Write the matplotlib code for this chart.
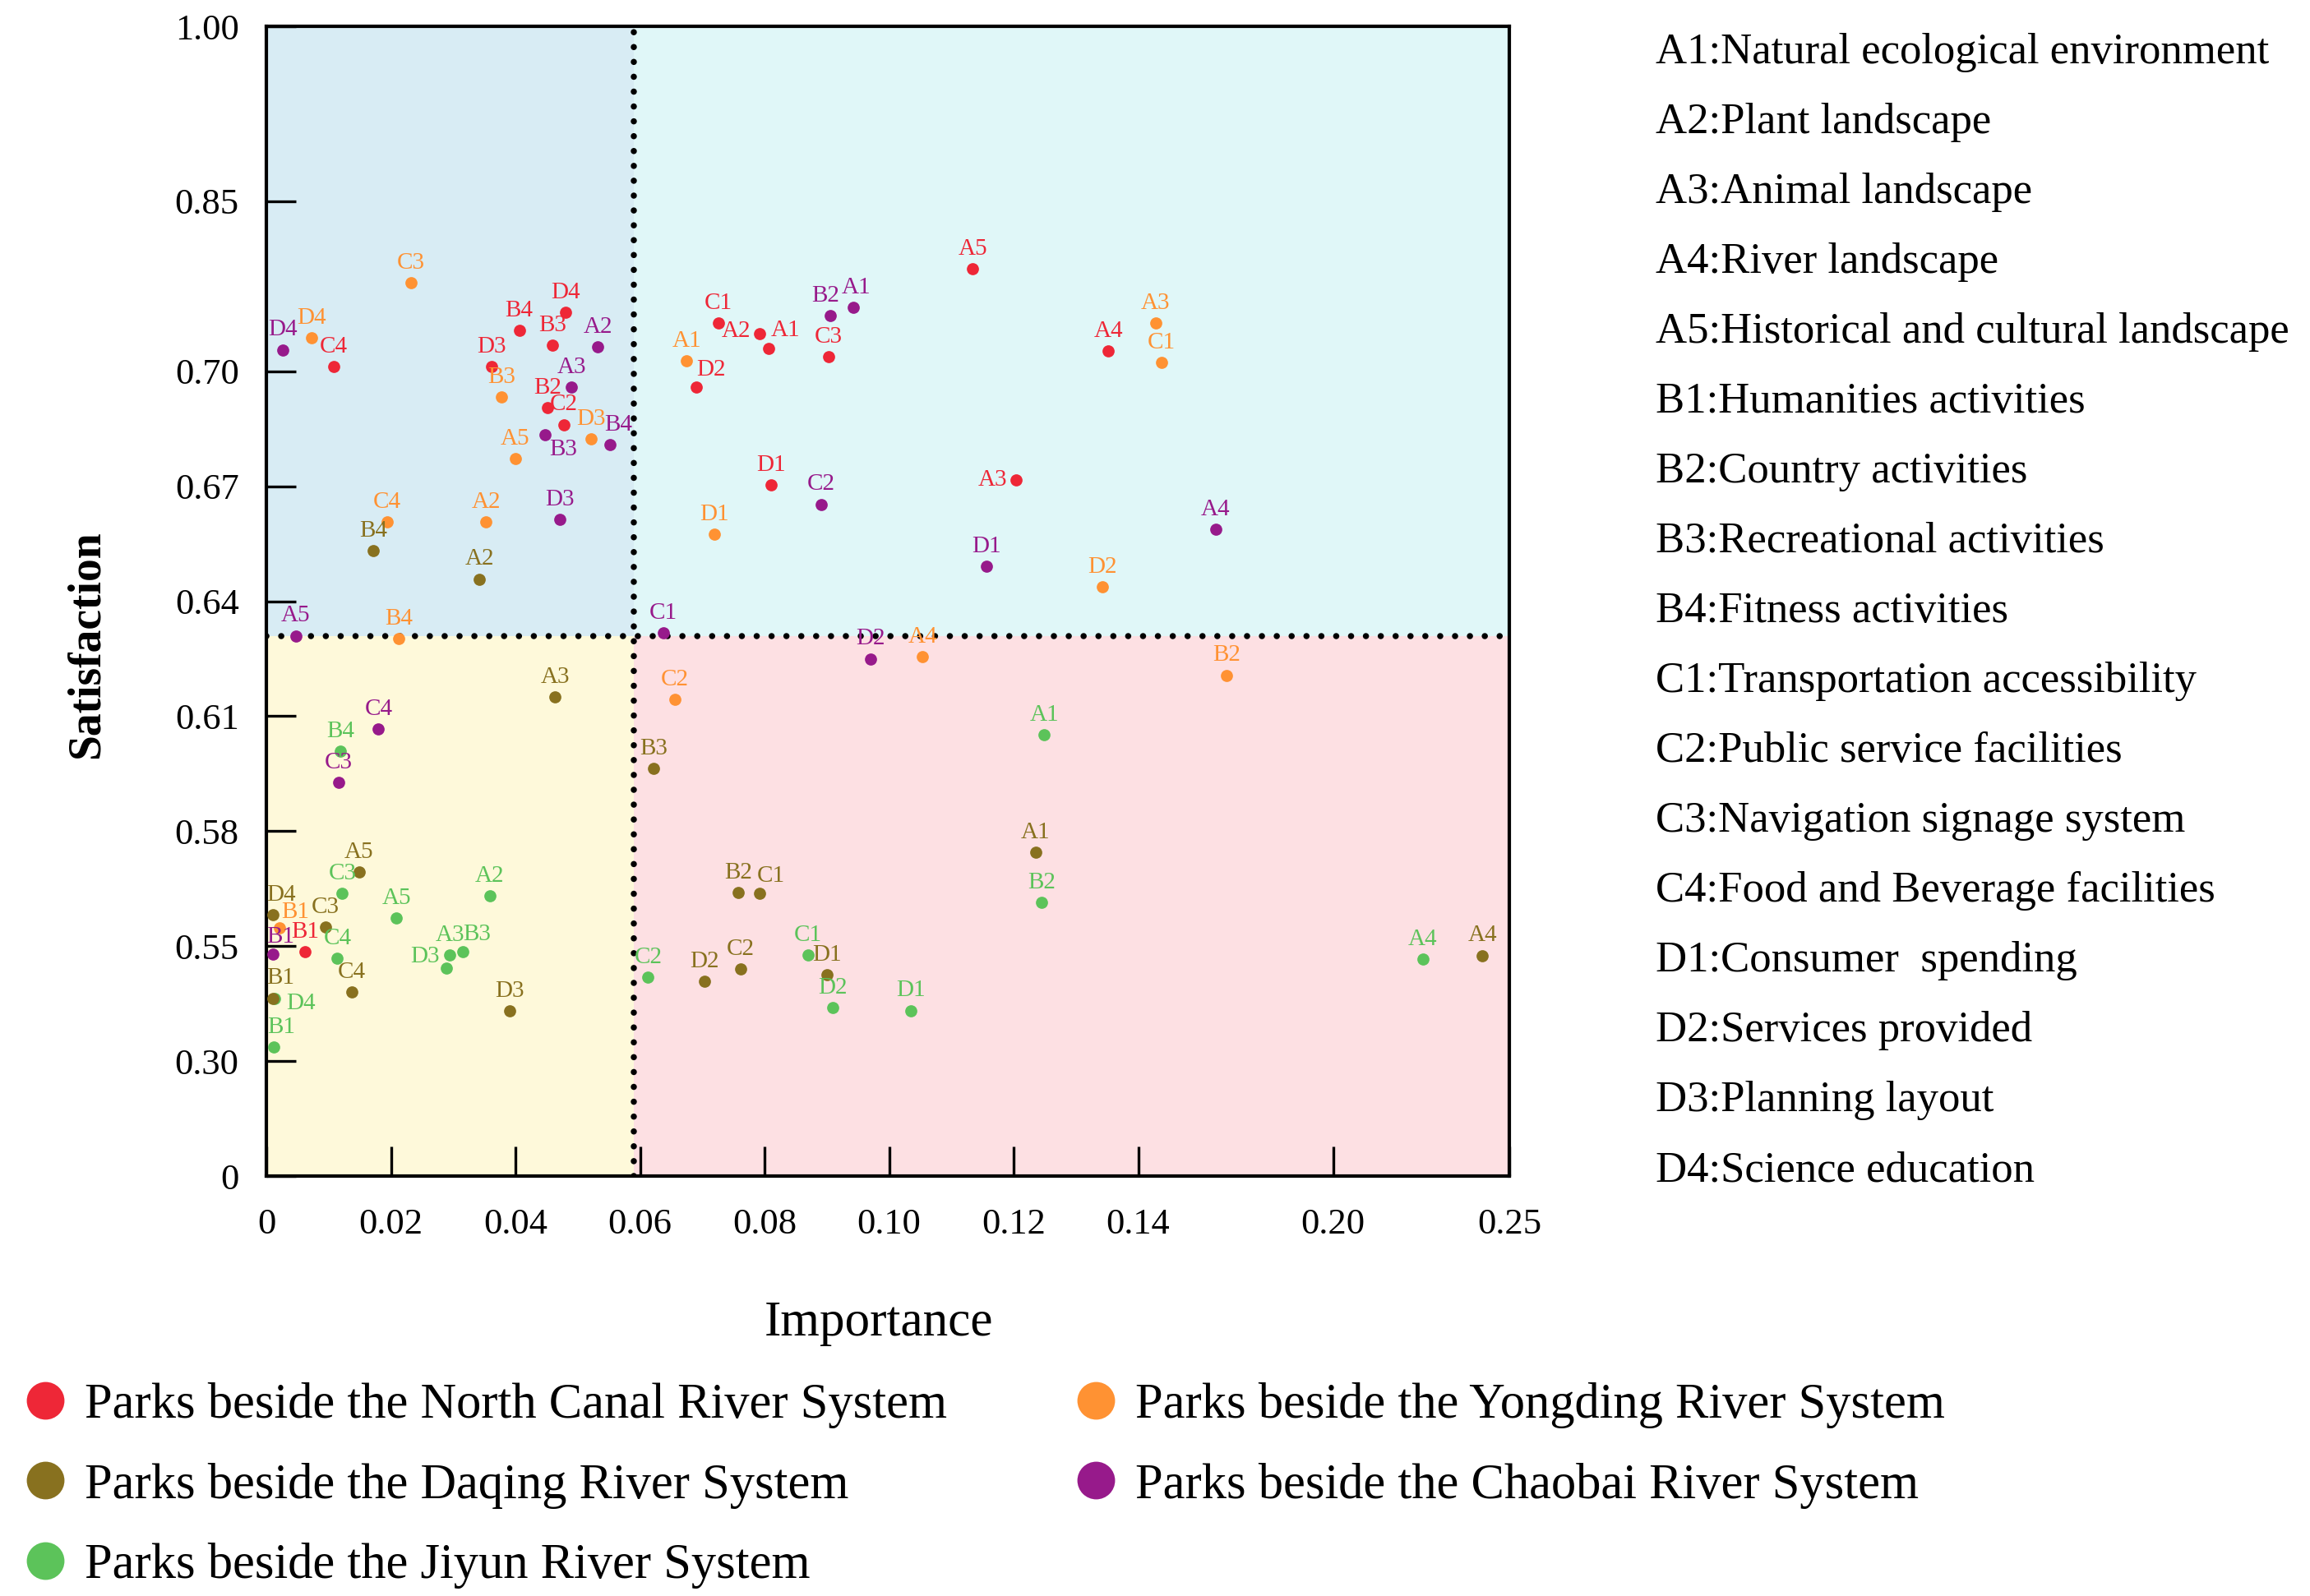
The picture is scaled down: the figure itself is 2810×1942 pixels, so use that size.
import numpy as np
import matplotlib
matplotlib.use('Agg')
import matplotlib.pyplot as plt
from matplotlib.lines import Line2D

plt.rcParams['font.family'] = ['Liberation Serif', 'DejaVu Serif']

INDICATORS = ['A1', 'A2', 'A3', 'A4', 'A5', 'B1', 'B2', 'B3', 'B4',
              'C1', 'C2', 'C3', 'C4', 'D1', 'D2', 'D3', 'D4']

DESCRIPTIONS = [
    'Natural ecological environment', 'Plant landscape', 'Animal landscape',
    'River landscape', 'Historical and cultural landscape',
    'Humanities activities', 'Country activities', 'Recreational activities',
    'Fitness activities', 'Transportation accessibility',
    'Public service facilities', 'Navigation signage system',
    'Food and Beverage facilities', 'Consumer  spending', 'Services provided',
    'Planning layout', 'Science education',
]

# importance / satisfaction per river system
NC_IMP = [0.0806, 0.0792, 0.1204, 0.1352, 0.1134, 0.0062, 0.0451, 0.0460, 0.0406,
          0.0726, 0.0478, 0.0903, 0.0108, 0.0810, 0.0691, 0.0362, 0.0481]
NC_SAT = [0.7203, 0.7333, 0.6716, 0.7177, 0.7902, 0.5382, 0.6905, 0.7229, 0.7358,
          0.7428, 0.6861, 0.7125, 0.7040, 0.6703, 0.6959, 0.7043, 0.7522]

YD_IMP = [0.0675, 0.0353, 0.1454, 0.1054, 0.0400, 0.0021, 0.1673, 0.0378, 0.0213,
          0.1471, 0.0656, 0.0232, 0.0194, 0.0720, 0.1343, 0.0521, 0.0072]
YD_SAT = [0.7094, 0.6606, 0.7423, 0.6256, 0.6772, 0.5548, 0.6207, 0.6932, 0.6302,
          0.7079, 0.6144, 0.7780, 0.6607, 0.6575, 0.6437, 0.6824, 0.7294]

DQ_IMP = [0.1235, 0.0342, 0.0464, 0.2423, 0.0149, 0.0011, 0.0758, 0.0622, 0.0172,
          0.0792, 0.0762, 0.0095, 0.0137, 0.0900, 0.0703, 0.0391, 0.0011]
DQ_SAT = [0.5744, 0.6458, 0.6151, 0.5298, 0.5693, 0.4368, 0.5639, 0.5963, 0.6532,
          0.5637, 0.5002, 0.5550, 0.4497, 0.4871, 0.4743, 0.4092, 0.5581]

CB_IMP = [0.0942, 0.0532, 0.0490, 0.1639, 0.0047, 0.0011, 0.0905, 0.0447, 0.0552,
          0.0637, 0.0891, 0.0116, 0.0180, 0.1157, 0.0970, 0.0471, 0.0027]
CB_SAT = [0.7560, 0.7213, 0.6959, 0.6588, 0.6310, 0.5322, 0.7493, 0.6835, 0.6809,
          0.6318, 0.6653, 0.5927, 0.6067, 0.6492, 0.6250, 0.6613, 0.7190]

JY_IMP = [0.1249, 0.0359, 0.0295, 0.2255, 0.0209, 0.0012, 0.1245, 0.0316, 0.0119,
          0.0870, 0.0613, 0.0122, 0.0114, 0.1035, 0.0910, 0.0289, 0.0013]
JY_SAT = [0.6051, 0.5632, 0.5303, 0.5217, 0.5573, 0.3308, 0.5614, 0.5377, 0.6009,
          0.5306, 0.4831, 0.5637, 0.5243, 0.4100, 0.4162, 0.5028, 0.4360]

IMP_MEAN = 0.059
SAT_MEAN = 0.631

X_TICKS = [0, 0.02, 0.04, 0.06, 0.08, 0.10, 0.12, 0.14, 0.20, 0.25]
X_LABELS = ['0', '0.02', '0.04', '0.06', '0.08', '0.10', '0.12', '0.14', '0.20', '0.25']
Y_TICKS = [0, 0.30, 0.55, 0.58, 0.61, 0.64, 0.67, 0.70, 0.85, 1.00]
Y_LABELS = ['0', '0.30', '0.55', '0.58', '0.61', '0.64', '0.67', '0.70', '0.85', '1.00']

# piecewise-linear axis layout (broken scales)
X_POS = [0, 1, 2, 3, 4, 5, 6, 7, 8.565, 9.98]
Y_POS = [0, 1, 2, 3, 4, 5, 6, 7, 8.48, 10]

RED = '#EE2737'
ORANGE = '#FF9233'
OLIVE = '#88711F'
PURPLE = '#971A8B'
GREEN = '#5CC35A'

series = {
    'NC': ('Parks beside the North Canal River System', NC_IMP, NC_SAT, RED),
    'YD': ('Parks beside the Yongding River System', YD_IMP, YD_SAT, ORANGE),
    'DQ': ('Parks beside the Daqing River System', DQ_IMP, DQ_SAT, OLIVE),
    'CB': ('Parks beside the Chaobai River System', CB_IMP, CB_SAT, PURPLE),
    'JY': ('Parks beside the Jiyun River System', JY_IMP, JY_SAT, GREEN),
}
draw_order = ['JY', 'NC', 'DQ', 'YD', 'CB']

# label placement exceptions: (ha, va, dx, dy) in points
label_pos = {
    ('NC', 'A2'): ('right', 'center', -4, 1),
    ('NC', 'A1'): ('left', 'bottom', 1, 3),
    ('NC', 'D2'): ('left', 'bottom', 0, 3),
    ('NC', 'A3'): ('right', 'center', -4, 0),
    ('CB', 'B3'): ('left', 'top', 2, -2),
    ('CB', 'B4'): ('center', 'bottom', 3.5, 4),
    ('CB', 'B2'): ('center', 'bottom', -2, 4),
    ('CB', 'A1'): ('center', 'bottom', 1.5, 4),
    ('DQ', 'C1'): ('left', 'bottom', -1, 3),
    ('DQ', 'D4'): ('left', 'bottom', -3, 4),
    ('YD', 'B1'): ('left', 'bottom', 1, 2),
    ('CB', 'B1'): ('left', 'bottom', -3, 3),
    ('JY', 'B3'): ('left', 'bottom', 0, 3),
    ('JY', 'D3'): ('right', 'center', -3, 5),
    ('DQ', 'B1'): ('left', 'bottom', -3, 4),
    ('JY', 'D4'): ('left', 'center', 5, -2),
    ('JY', 'B1'): ('left', 'bottom', -3, 4),
}


def fx(v):
    return np.interp(v, X_TICKS, X_POS)


def ix(p):
    return np.interp(p, X_POS, X_TICKS)


def fy(v):
    return np.interp(v, Y_TICKS, Y_POS)


def iy(p):
    return np.interp(p, Y_POS, Y_TICKS)


fig = plt.figure(figsize=(14.05, 9.71), dpi=200)
ax = fig.add_axes([0.1153, 0.2631, 0.5381, 0.7204])
ax.set_xscale('function', functions=(fx, ix))
ax.set_yscale('function', functions=(fy, iy))
ax.set_xlim(0, 0.25)
ax.set_ylim(0, 1.0)

# quadrant backgrounds
ax.fill_between([0, IMP_MEAN], SAT_MEAN, 1.0, color='#D8ECF4', lw=0, zorder=0)
ax.fill_between([IMP_MEAN, 0.25], SAT_MEAN, 1.0, color='#E0F7F8', lw=0, zorder=0)
ax.fill_between([0, IMP_MEAN], 0, SAT_MEAN, color='#FEF9DA', lw=0, zorder=0)
ax.fill_between([IMP_MEAN, 0.25], 0, SAT_MEAN, color='#FDE0E3', lw=0, zorder=0)

dots = (0, (0.01, 2.4))
ax.axvline(IMP_MEAN, color='black', lw=2.7, ls=dots, dash_capstyle='round', zorder=1)
ax.axhline(SAT_MEAN, color='black', lw=2.7, ls=dots, dash_capstyle='round', zorder=1)

for key in draw_order:
    name, imp, sat, col = series[key]
    ax.plot(imp, sat, 'o', ms=5.3, color=col, mec='none', zorder=3)
    for code, xv, yv in zip(INDICATORS, imp, sat):
        ha, va, dx, dy = label_pos.get((key, code), ('center', 'bottom', 0, 4))
        ax.annotate(code, (xv, yv), xytext=(dx, dy), textcoords='offset points',
                    ha=ha, va=va, fontsize=10.5, color=col, zorder=4)

ax.set_xticks(X_TICKS)
ax.set_xticklabels(X_LABELS)
ax.set_yticks(Y_TICKS)
ax.set_yticklabels(Y_LABELS)
ax.minorticks_off()
ax.tick_params(direction='in', length=13, width=1.2, labelsize=16,
               top=False, right=False)
ax.tick_params(axis='x', pad=14)
ax.tick_params(axis='y', pad=12)
for sp in ax.spines.values():
    sp.set_linewidth(1.5)

ax.set_xlabel('Importance', fontsize=22)
ax.xaxis.set_label_coords(0.493, -0.108)
ax.set_ylabel('Satisfaction', fontsize=20, fontweight='bold')
ax.yaxis.set_label_coords(-0.127, 0.4625)

# indicator descriptions on the right
for i, (code, desc) in enumerate(zip(INDICATORS, DESCRIPTIONS)):
    fig.text(0.7167, 1 - (64 + 85.0 * i) / 1942, f'{code}:{desc}',
             fontsize=19, va='center', ha='left')

# legend in two columns, filled row by row
def handle(key):
    name, _, _, col = series[key]
    return Line2D([], [], marker='o', ls='none', ms=16.5, color=col,
                  mec='none', label=name)


leg_kw = dict(frameon=False, fontsize=21.8, handlelength=1.0, handletextpad=0.28,
              labelspacing=0.69, borderpad=0, borderaxespad=0, loc='upper left')
fig.legend(handles=[handle('NC'), handle('DQ'), handle('JY')],
           bbox_to_anchor=(0.0089, 0.134), **leg_kw)
fig.legend(handles=[handle('YD'), handle('CB')],
           bbox_to_anchor=(0.4637, 0.134), **leg_kw)

fig.savefig('out.png', dpi=200)
plt.close(fig)
